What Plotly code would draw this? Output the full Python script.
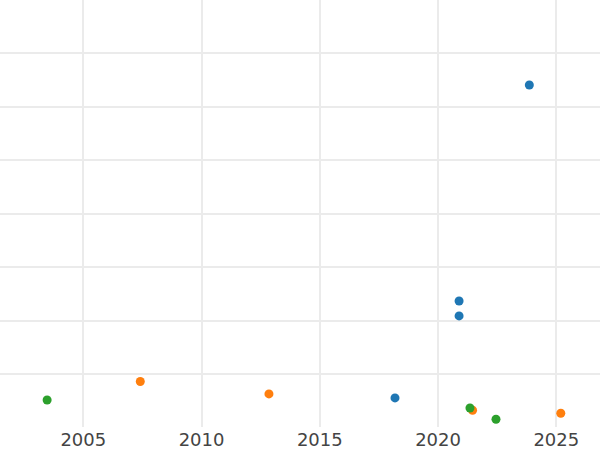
import plotly.graph_objects as go

# Series data (year, value)
blue_x = [2023.86, 2020.89, 2020.89, 2018.18]
blue_y = [6.41, 2.37, 2.09, 0.556]
orange_x = [2007.41, 2012.85, 2021.46, 2025.19]
orange_y = [0.863, 0.631, 0.325, 0.269]
green_x = [2003.47, 2021.35, 2022.45]
green_y = [0.518, 0.368, 0.156]

x_ticks = [2005, 2010, 2015, 2020, 2025]

fig = go.Figure()
for xs, ys, col in [(blue_x, blue_y, "#1f77b4"), (orange_x, orange_y, "#ff7f0e"), (green_x, green_y, "#2ca02c")]:
    fig.add_trace(go.Scatter(x=xs, y=ys, mode="markers",
                             marker=dict(color=col, size=9, line=dict(width=0))))

fig.update_layout(
    width=600, height=450,
    margin=dict(l=0, r=0, t=0, b=23),
    paper_bgcolor="white", plot_bgcolor="white",
    showlegend=False,
    font=dict(family="DejaVu Sans", size=18, color="#444"),
)
fig.update_xaxes(range=[2001.478, 2026.848], tickvals=x_ticks,
                 showgrid=True, gridcolor="#ebebeb", gridwidth=1.5,
                 zeroline=False, showline=False, ticks="", automargin=False)
fig.update_yaxes(range=[0.012, 8.0], dtick=1, tick0=0,
                 showgrid=True, gridcolor="#ebebeb", gridwidth=1.5,
                 zeroline=False, showline=False, showticklabels=False, ticks="", automargin=False)

fig.write_html("out.html", config={"displayModeBar": False},
               post_script="document.body.style.margin='0';document.body.style.padding='0';")
